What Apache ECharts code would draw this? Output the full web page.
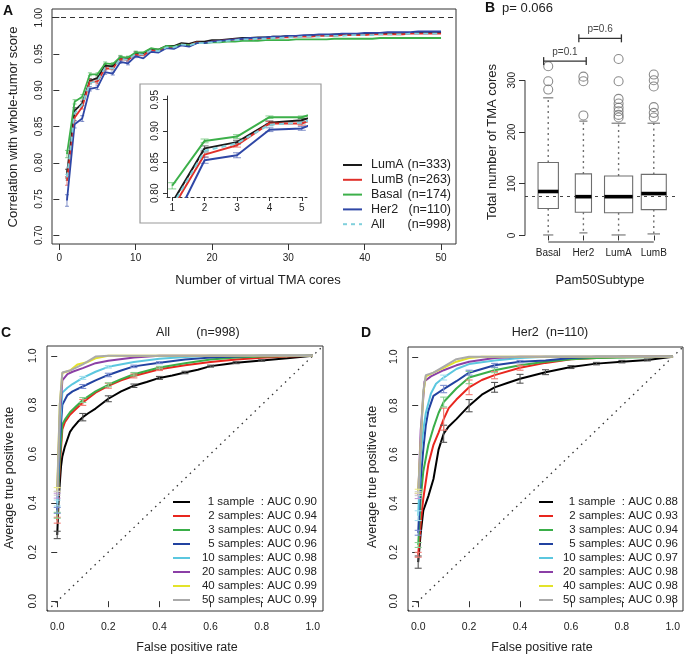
<!DOCTYPE html>
<html><head><meta charset="utf-8">
<script src="https://cdn.jsdelivr.net/npm/echarts@6/dist/echarts.min.js"></script>
<style>html,body{margin:0;padding:0;background:#fff}#c{width:685px;height:657px}</style>
</head><body><div id="c"></div>
<script>
// ---------------- Panel A data ----------------
const aCores = [1,2,3,4,5,6,7,8,9,10,11,12,13,14,15,16,17,18,19,20,21,22,23,24,25,26,27,28,29,30,31,32,33,34,35,36,37,38,39,40,41,42,43,44,45,46,47,48,49,50];
const aLumA  = [0.785,0.872,0.882,0.913,0.917,0.934,0.933,0.945,0.944,0.951, 0.951,0.957,0.956,0.961,0.961,0.965,0.964,0.967,0.967,0.969, 0.969,0.970,0.971,0.972,0.972,0.973,0.973,0.974,0.974,0.975, 0.975,0.975,0.976,0.976,0.976,0.977,0.977,0.977,0.977,0.978, 0.978,0.978,0.978,0.979,0.979,0.979,0.979,0.979,0.980,0.980];
const aLumB  = [0.775,0.862,0.877,0.912,0.912,0.930,0.930,0.943,0.942,0.949, 0.948,0.955,0.954,0.959,0.959,0.963,0.962,0.966,0.965,0.967, 0.968,0.969,0.970,0.970,0.971,0.971,0.972,0.972,0.973,0.973, 0.974,0.974,0.974,0.975,0.975,0.975,0.976,0.976,0.976,0.976, 0.977,0.977,0.977,0.977,0.977,0.978,0.978,0.978,0.978,0.978];
const aBasal = [0.812,0.884,0.891,0.922,0.922,0.937,0.936,0.946,0.945,0.952, 0.952,0.958,0.956,0.961,0.960,0.963,0.962,0.965,0.965,0.966, 0.966,0.967,0.967,0.968,0.968,0.968,0.969,0.969,0.969,0.969, 0.970,0.970,0.970,0.970,0.970,0.971,0.971,0.971,0.971,0.971, 0.971,0.972,0.972,0.972,0.972,0.972,0.972,0.972,0.972,0.972];
const aHer2  = [0.748,0.853,0.861,0.902,0.904,0.925,0.923,0.939,0.937,0.947, 0.944,0.953,0.952,0.958,0.957,0.962,0.960,0.965,0.965,0.967, 0.968,0.969,0.970,0.971,0.972,0.972,0.973,0.974,0.974,0.975, 0.975,0.976,0.976,0.977,0.977,0.977,0.978,0.978,0.978,0.979, 0.979,0.979,0.980,0.980,0.980,0.980,0.981,0.981,0.981,0.981];
const aAll   = [0.780,0.868,0.880,0.910,0.913,0.931,0.930,0.943,0.942,0.950, 0.949,0.955,0.954,0.959,0.959,0.963,0.962,0.965,0.965,0.966, 0.967,0.968,0.969,0.970,0.970,0.971,0.971,0.972,0.972,0.973, 0.973,0.974,0.974,0.974,0.975,0.975,0.975,0.976,0.976,0.976, 0.976,0.977,0.977,0.977,0.977,0.978,0.978,0.978,0.978,0.978];
const aErrLumA  = [0.006,0.004,0.003,0.003,0.003,0.002,0.002,0.002,0.002,0.002];
const aErrLumB  = [0.006,0.004,0.003,0.003,0.003,0.002,0.002,0.002,0.002,0.002];
const aErrBasal = [0.005,0.003,0.003,0.002,0.002,0.002,0.002,0.002,0.002,0.002];
const aErrHer2  = [0.008,0.005,0.004,0.003,0.003,0.003,0.002,0.002,0.002,0.002];
const aErrAll   = [0.004,0.003,0.002,0.002,0.002,0.002,0.002,0.001,0.001,0.001];
const aNames  = ['LumA','LumB','Basal','Her2','All'];
const aCounts = ['(n=333)','(n=263)','(n=174)','(n=110)','(n=998)'];
const aTicksX = [0,10,20,30,40,50];
const aTicksY = [0.70,0.75,0.80,0.85,0.90,0.95,1.00];
const aRefLine = 1.00;
const insetTicksX = [1,2,3,4,5];
const insetTicksY = [0.80,0.85,0.90,0.95];

// ---------------- Panel B data ----------------
const bCats = ['Basal','Her2','LumA','LumB'];
const bN = [174,110,333,263];
// [lower whisker, Q1, median, Q3, upper whisker]
const bStats = [[1,52,85,141,266],[5,45,75,119,221],[1,44,75,115,217],[3,50,81,118,217]];
const bOutliers = [[282,298,327],[232,298,307],[228,233,240,247,255,264,298,341],[228,237,248,288,300,311]];
const bOverallMedian = 76;
const bTicksY = [0,100,200,300];
const bTicksX = [1,2,3,4];
const bComparisons = [['Basal','Her2','p=0.1',337],['Her2','LumA','p=0.6',381]];
const bTitleP = 'p= 0.066';

// ---------------- Panel C / D data: [FPR, mean TPR, error half-width] ----------------
const rocLabels = ['1 sample','2 samples','3 samples','5 samples','10 samples','20 samples','40 samples','50 samples'];
const cAUC = ['0.90','0.94','0.94','0.96','0.98','0.98','0.99','0.99'];
const dAUC = ['0.88','0.93','0.94','0.96','0.97','0.98','0.98','0.98'];
const rocTicks = [0,0.2,0.4,0.6,0.8,1.0];
const diagLine = [[-0.04,-0.04],[1.04,1.04]];

const c1 = [[0,0.27,0.015],[0.005,0.40,0],[0.01,0.48,0],[0.015,0.55,0],[0.02,0.59,0],[0.03,0.63,0],[0.04,0.66,0],[0.05,0.69,0],[0.06,0.705,0],[0.08,0.73,0],[0.1,0.75,0.015],[0.12,0.765,0],[0.15,0.785,0],[0.2,0.825,0.012],[0.25,0.855,0],[0.3,0.878,0.007],[0.35,0.893,0],[0.4,0.91,0.006],[0.45,0.92,0],[0.5,0.932,0.005],[0.55,0.943,0],[0.6,0.958,0.004],[0.65,0.965,0],[0.7,0.972,0.004],[0.8,0.981,0.003],[0.9,0.99,0],[1,1,0]];
const c2 = [[0,0.33,0.012],[0.01,0.55,0],[0.02,0.70,0],[0.03,0.73,0],[0.05,0.76,0],[0.07,0.78,0],[0.1,0.81,0.012],[0.15,0.85,0],[0.2,0.878,0.01],[0.25,0.9,0],[0.3,0.918,0.008],[0.4,0.945,0.005],[0.5,0.962,0],[0.6,0.975,0],[0.7,0.985,0],[0.8,0.992,0],[0.9,0.997,0],[1,1,0]];
const c3 = [[0,0.35,0.012],[0.01,0.58,0],[0.02,0.72,0],[0.03,0.74,0],[0.05,0.77,0],[0.07,0.79,0],[0.1,0.82,0.01],[0.15,0.855,0],[0.2,0.882,0.008],[0.25,0.905,0],[0.3,0.925,0.007],[0.4,0.952,0.005],[0.5,0.97,0],[0.6,0.985,0],[0.7,0.993,0],[0.8,0.997,0],[1,1,0]];
const c5 = [[0,0.37,0.012],[0.01,0.65,0],[0.02,0.8,0],[0.04,0.84,0],[0.06,0.855,0],[0.1,0.875,0.008],[0.15,0.9,0],[0.2,0.922,0.007],[0.25,0.94,0],[0.3,0.957,0.005],[0.4,0.972,0.004],[0.5,0.985,0],[0.6,0.993,0],[0.7,0.997,0],[0.8,1,0],[1,1,0]];
const c10 = [[0,0.40,0.012],[0.01,0.7,0],[0.02,0.85,0],[0.04,0.87,0],[0.06,0.885,0],[0.1,0.91,0.006],[0.15,0.935,0],[0.2,0.955,0.005],[0.3,0.975,0],[0.4,0.988,0],[0.5,0.995,0],[0.6,1,0],[1,1,0]];
const c20 = [[0,0.43,0.01],[0.01,0.75,0],[0.02,0.9,0],[0.04,0.925,0],[0.06,0.935,0],[0.1,0.95,0],[0.15,0.97,0],[0.2,0.98,0],[0.3,0.993,0],[0.4,1,0],[1,1,0]];
const c40 = [[0,0.455,0.008],[0.01,0.8,0],[0.02,0.93,0],[0.05,0.94,0],[0.08,0.965,0],[0.12,0.975,0],[0.15,0.99,0],[0.2,1,0],[1,1,0]];
const c50 = [[0,0.44,0.008],[0.01,0.8,0],[0.02,0.932,0],[0.05,0.94,0],[0.1,0.965,0],[0.15,0.997,0],[0.2,1,0],[1,1,0]];

const d1 = [[0,0.16,0.025],[0.01,0.28,0],[0.02,0.37,0],[0.04,0.43,0],[0.06,0.5,0],[0.08,0.62,0],[0.1,0.685,0.035],[0.12,0.715,0],[0.15,0.745,0],[0.2,0.8,0.025],[0.25,0.845,0],[0.3,0.875,0.02],[0.35,0.893,0],[0.4,0.91,0.018],[0.5,0.937,0.01],[0.6,0.958,0.006],[0.7,0.972,0.005],[0.8,0.98,0.005],[0.9,0.987,0.004],[1,1,0]];
const d2 = [[0,0.19,0.01],[0.01,0.32,0],[0.02,0.42,0],[0.04,0.56,0],[0.06,0.64,0],[0.08,0.69,0],[0.1,0.745,0.045],[0.12,0.79,0],[0.15,0.825,0],[0.2,0.875,0.03],[0.25,0.905,0],[0.3,0.925,0.015],[0.4,0.955,0.01],[0.5,0.975,0],[0.6,0.99,0],[0.7,0.995,0],[0.8,1,0],[1,1,0]];
const d3 = [[0,0.23,0.01],[0.01,0.42,0],[0.02,0.53,0],[0.04,0.64,0],[0.06,0.71,0],[0.08,0.77,0],[0.1,0.815,0.02],[0.15,0.87,0],[0.2,0.915,0.025],[0.3,0.945,0.01],[0.4,0.965,0],[0.5,0.98,0],[0.6,0.99,0],[0.7,0.995,0],[1,1,0]];
const d5 = [[0,0.28,0.01],[0.01,0.5,0],[0.02,0.62,0],[0.03,0.72,0],[0.04,0.78,0],[0.06,0.84,0],[0.1,0.868,0.015],[0.15,0.9,0],[0.2,0.935,0.01],[0.3,0.965,0.008],[0.4,0.98,0.005],[0.5,0.985,0],[0.6,0.995,0],[0.7,1,0],[1,1,0]];
const d10 = [[0,0.35,0.02],[0.01,0.6,0],[0.02,0.7,0],[0.03,0.77,0],[0.05,0.85,0],[0.07,0.89,0],[0.1,0.915,0.01],[0.15,0.95,0],[0.2,0.97,0],[0.3,0.985,0],[0.4,0.995,0],[0.5,1,0],[1,1,0]];
const d20 = [[0,0.43,0.01],[0.01,0.7,0],[0.025,0.9,0],[0.05,0.92,0],[0.1,0.945,0],[0.15,0.965,0],[0.2,0.98,0],[0.3,0.995,0],[0.4,1,0],[1,1,0]];
const d40 = [[0,0.45,0.008],[0.02,0.85,0],[0.03,0.92,0],[0.06,0.935,0],[0.1,0.955,0],[0.15,0.98,0],[0.2,0.995,0],[0.25,1,0],[1,1,0]];
const d50 = [[0,0.44,0.008],[0.02,0.86,0],[0.03,0.925,0],[0.06,0.935,0],[0.1,0.96,0],[0.15,0.99,0],[0.2,1,0],[1,1,0]];

// ---------------- styling ----------------
const FONT = "'Liberation Sans', Arial, Helvetica, sans-serif";
const TXT = '#222';
const AX = '#333';
const aColors = ['#1a1a1a','#e0302a','#3cb04a','#2f47a6','#80d0dc'];
const aErrColors = ['rgba(60,60,60,0.7)','rgba(224,48,42,0.55)','rgba(60,176,74,0.55)','rgba(47,71,166,0.55)','rgba(128,208,220,0.7)'];
const rocColors = ['#000000','#e8261e','#3aae49','#2142a0','#5bc7df','#8b3fa6','#e3e32a','#aaaaaa'];
const rocErrColors = ['#555555','#f07a72','#86d190','#7c8fd0','#a6e0ee','#c29ad6','#eded88','#cccccc'];

const chart = echarts.init(document.getElementById('c'), null, {renderer:'canvas'});

function valAxis(gi, min, max, ticks, fmt, o) {
  o = o || {};
  return {
    type:'value', gridIndex:gi, min, max, scale:true,
    splitLine:{show:false},
    axisLine:{show: !!o.line, lineStyle:{color:AX, width:1, type:o.lineType||'solid'}},
    axisTick:{show:true, customValues:ticks, length:o.tickLen||6, inside:false, lineStyle:{color:AX}},
    axisLabel:{show:true, customValues:ticks, formatter:fmt, fontSize:o.fs||10, fontFamily:FONT, color:TXT, margin:o.margin||8, rotate:o.rot||0, hideOverlap:false},
    z:5
  };
}

const grids = [
  {left:52, top:9, width:404, height:235, show:true, borderColor:AX, borderWidth:1, backgroundColor:'transparent'}, // A
  {left:167, top:96, width:140, height:101, show:false}, // inset
  {left:525, top:52, width:152, height:190, show:false}, // B
  {left:47, top:346, width:276, height:265, show:true, borderColor:AX, borderWidth:1, backgroundColor:'transparent'}, // C
  {left:408, top:347, width:275, height:264, show:true, borderColor:AX, borderWidth:1, backgroundColor:'transparent'} // D
];
const f2 = v => v.toFixed(2), f1 = v => v.toFixed(1);
const xAxes = [
  valAxis(0, -0.96, 51.96, aTicksX, v=>String(v), {margin:9}),
  valAxis(1, 0.84, 5.16, insetTicksX, v=>String(v), {line:true, lineType:[3,3], tickLen:4, margin:6}),
  valAxis(2, 0.34, 4.66, bTicksX, v=>bCats[v-1], {tickLen:5, margin:6}),
  valAxis(3, -0.04, 1.04, rocTicks, f1, {margin:11, fs:10.5}),
  valAxis(4, -0.04, 1.04, rocTicks, f1, {margin:11, fs:10.5})
];
const yAxes = [
  valAxis(0, 0.688, 1.012, aTicksY, f2, {rot:90, margin:8}),
  valAxis(1, 0.794, 0.956, insetTicksY, f2, {line:true, tickLen:4, rot:90, margin:7}),
  valAxis(2, -12.6, 354.6, bTicksY, v=>String(v), {rot:90, margin:8}),
  valAxis(3, -0.04, 1.04, rocTicks, f1, {rot:90, margin:8, fs:10.5}),
  valAxis(4, -0.04, 1.04, rocTicks, f1, {rot:90, margin:8, fs:10.5})
];

function errSeries(gi, data, color, cap, z) {
  return {
    type:'custom', xAxisIndex:gi, yAxisIndex:gi, data, clip:true, silent:true, z,
    encode:{x:0, y:1},
    renderItem:(params, api) => {
      const e = api.value(2);
      if (!e) return null;
      const x = api.value(0), y = api.value(1);
      const p1 = api.coord([x, y - e]), p2 = api.coord([x, y + e]);
      const st = {stroke:color, lineWidth:1.1};
      return {type:'group', children:[
        {type:'line', shape:{x1:p1[0], y1:p1[1], x2:p2[0], y2:p2[1]}, style:st},
        {type:'line', shape:{x1:p1[0]-cap, y1:p1[1], x2:p1[0]+cap, y2:p1[1]}, style:st},
        {type:'line', shape:{x1:p2[0]-cap, y1:p2[1], x2:p2[0]+cap, y2:p2[1]}, style:st}
      ]};
    }
  };
}
function lineS(gi, data, color, width, dash, z) {
  return {type:'line', xAxisIndex:gi, yAxisIndex:gi, data, showSymbol:false, symbol:'none', clip:true, silent:true,
    lineStyle:{color, width, type: dash ? dash : 'solid'}, itemStyle:{color}, z, encode:{x:0, y:1}};
}

const series = [];
// ----- Panel A -----
const aVals = [aLumA, aLumB, aBasal, aHer2, aAll];
const aErrs = [aErrLumA, aErrLumB, aErrBasal, aErrHer2, aErrAll];
aVals.forEach((vals, k) => {
  const pts = aCores.map((c, i) => [c, vals[i]]);
  const errPts = aErrs[k].map((e, i) => [aCores[i], vals[i], e]);
  const dash = k === 4 ? [5,4] : null;
  series.push(lineS(0, pts, aColors[k], 1.8, dash, 10 + k));
  series.push(errSeries(0, errPts, aErrColors[k], 2, 9));
  series.push(lineS(1, pts, aColors[k], 2, dash, 10 + k));
  series.push(errSeries(1, errPts.slice(0, 5), aErrColors[k], 4, 9));
});
series[0].markLine = {silent:true, symbol:['none','none'], label:{show:false},
  lineStyle:{color:AX, type:[5,4], width:1}, data:[{yAxis:aRefLine}]};

// ----- Panel B -----
const maxSqrtN = Math.sqrt(Math.max(...bN));
series.push({
  type:'custom', xAxisIndex:2, yAxisIndex:2, silent:true, z:10,
  data: bStats.map((s, i) => [i + 1, ...s, bN[i]]),
  encode:{x:0, y:[1,5]},
  renderItem:(params, api) => {
    const i = api.value(0);
    const lo = api.value(1), q1 = api.value(2), med = api.value(3), q3 = api.value(4), hi = api.value(5), n = api.value(6);
    const bw = api.size([1, 0])[0] * 0.8 * Math.sqrt(n) / maxSqrtN;
    const cx = api.coord([i, med])[0];
    const y = v => api.coord([i, v])[1];
    const stroke = '#6e6e6e';
    const dashS = {stroke, lineWidth:1.4, lineDash:[2,3.5]};
    const solid = {stroke, lineWidth:1.1};
    return {type:'group', children:[
      {type:'line', shape:{x1:cx, y1:y(q3), x2:cx, y2:y(hi)}, style:dashS},
      {type:'line', shape:{x1:cx, y1:y(q1), x2:cx, y2:y(lo)}, style:dashS},
      {type:'line', shape:{x1:cx-bw/4, y1:y(hi), x2:cx+bw/4, y2:y(hi)}, style:solid},
      {type:'line', shape:{x1:cx-bw/4, y1:y(lo), x2:cx+bw/4, y2:y(lo)}, style:solid},
      {type:'rect', shape:{x:cx-bw/2, y:y(q3), width:bw, height:y(q1)-y(q3)}, style:{fill:'none', stroke, lineWidth:1.1}},
      {type:'line', shape:{x1:cx-bw/2, y1:y(med), x2:cx+bw/2, y2:y(med)}, style:{stroke:'#000', lineWidth:3.6}}
    ]};
  }
});
series.push({
  type:'scatter', xAxisIndex:2, yAxisIndex:2, silent:true, z:11,
  data: bOutliers.flatMap((arr, i) => arr.map(v => [i + 1, v])),
  symbol:'circle', symbolSize:9,
  itemStyle:{color:'rgba(0,0,0,0)', borderColor:'#6e6e6e', borderWidth:1.1},
  markLine:{silent:true, symbol:['none','none'], label:{show:false},
    lineStyle:{color:'#444', type:[3,4], width:1.2}, data:[{yAxis:bOverallMedian}]}
});
// B axis lines (R style: from first to last tick)
series.push({
  type:'custom', xAxisIndex:2, yAxisIndex:2, silent:true, z:12, data:[[0]],
  renderItem:(params, api) => {
    const xMin = 0.34, yMin = -12.6;
    const a = api.coord([xMin, bTicksY[0]]), b = api.coord([xMin, bTicksY[bTicksY.length-1]]);
    const c = api.coord([bTicksX[0], yMin]), d = api.coord([bTicksX[bTicksX.length-1], yMin]);
    const st = {stroke:AX, lineWidth:1};
    return {type:'group', children:[
      {type:'line', shape:{x1:a[0], y1:a[1], x2:b[0], y2:b[1]}, style:st},
      {type:'line', shape:{x1:c[0], y1:c[1], x2:d[0], y2:d[1]}, style:st}
    ]};
  }
});
// B comparison brackets
series.push({
  type:'custom', xAxisIndex:2, yAxisIndex:2, silent:true, z:12,
  data: bComparisons.map(c => [bCats.indexOf(c[0]) + 1, bCats.indexOf(c[1]) + 1, c[3]]),
  renderItem:(params, api) => {
    const i = api.value(0), j = api.value(1), yv = api.value(2);
    const label = bComparisons[params.dataIndex][2];
    const p1 = api.coord([i - 0.13, yv]), p2 = api.coord([j + 0.08, yv]);
    const st = {stroke:'#333', lineWidth:1.3};
    return {type:'group', children:[
      {type:'line', shape:{x1:p1[0], y1:p1[1], x2:p2[0], y2:p2[1]}, style:st},
      {type:'line', shape:{x1:p1[0], y1:p1[1]-4, x2:p1[0], y2:p1[1]+4}, style:st},
      {type:'line', shape:{x1:p2[0], y1:p2[1]-4, x2:p2[0], y2:p2[1]+4}, style:st},
      {type:'text', style:{text:label, x:(p1[0]+p2[0])/2, y:p1[1]-4, align:'center', verticalAlign:'bottom',
        textAlign:'center', textVerticalAlign:'bottom', fill:'#444', fontSize:10, fontFamily:FONT}}
    ]};
  }
});

// ----- Panels C & D -----
function addRoc(gi, curves) {
  series.push({type:'line', xAxisIndex:gi, yAxisIndex:gi, data:diagLine, showSymbol:false, symbol:'none', silent:true, clip:true,
    lineStyle:{color:'#333', width:1.3, type:[1.5,4.5]}, z:5});
  curves.forEach((cv, k) => {
    series.push(lineS(gi, cv.map(p => [p[0], p[1]]), rocColors[k], 2, null, 10 + k));
    series.push(errSeries(gi, cv, rocErrColors[k], 3.5, 30 + k));
  });
}
addRoc(3, [c1,c2,c3,c5,c10,c20,c40,c50]);
addRoc(4, [d1,d2,d3,d5,d10,d20,d40,d50]);

// ----- text & legends (graphic) -----
function T(text, x, y, size, o) {
  o = o || {};
  const al = o.align || 'center', va = o.valign || 'middle';
  return {type:'text', x, y, rotation:o.rot || 0, z:100, silent:true,
    style:{text, fill:o.color || TXT, fontSize:size, fontFamily:FONT, fontWeight:o.bold ? 'bold' : 'normal',
      align:al, verticalAlign:va, textAlign:al, textVerticalAlign:va}};
}
function L(x1, y1, x2, y2, color, w, dash) {
  return {type:'line', z:100, silent:true, shape:{x1, y1, x2, y2}, style:{stroke:color, lineWidth:w, lineDash:dash || null}};
}
const g = [];
// inset frame
g.push({type:'rect', z:1, silent:true, shape:{x:140, y:84, width:181, height:139}, style:{fill:'none', stroke:'#9a9a9a', lineWidth:1.2}});
// A
g.push(T('A', 8, 11, 14, {bold:true, color:'#111'}));
g.push(T('Correlation with whole-tumor score', 13, 127, 13, {rot:Math.PI/2}));
g.push(T('Number of virtual TMA cores', 258, 280, 13));
aNames.forEach((nm, k) => {
  const y = 165 + k * 14.8;
  g.push(L(343, y, 362, y, aColors[k], 2, k === 4 ? [4,4] : null));
  g.push(T(nm, 371, y, 12.5, {align:'left'}));
  g.push(T(aCounts[k], 451, y, 12.5, {align:'right'}));
});
// B
g.push(T('B', 490, 8, 14, {bold:true, color:'#111'}));
g.push(T(bTitleP, 502, 8, 13, {align:'left'}));
g.push(T('Total number of TMA cores', 492, 142, 13, {rot:Math.PI/2}));
g.push(T('Pam50Subtype', 600, 280, 13));
// C
g.push(T('C', 6, 333, 14, {bold:true, color:'#111'}));
g.push(T('All', 163, 333, 12.5));
g.push(T('(n=998)', 218, 333, 12.5));
g.push(T('Average true positive rate', 10, 478, 12.5, {rot:Math.PI/2}));
g.push(T('False positive rate', 187, 648, 12.5));
// D
g.push(T('D', 366, 333, 14, {bold:true, color:'#111'}));
g.push(T('Her2  (n=110)', 550, 333, 12.5));
g.push(T('Average true positive rate', 373, 477, 12.5, {rot:Math.PI/2}));
g.push(T('False positive rate', 542, 648, 12.5));
// ROC legends
function rocLegend(x1, x2, xr, y0, dy, aucs) {
  rocLabels.forEach((lb, k) => {
    const y = y0 + k * dy;
    g.push(L(x1, y, x2, y, rocColors[k], 2));
    const label = (k === 0 ? lb + '  ' : lb) + ': AUC ' + aucs[k];
    g.push(T(label, xr, y, 11.5, {align:'right'}));
  });
}
rocLegend(173, 190, 317, 502, 14, cAUC);
rocLegend(539, 553, 678, 502, 14, dAUC);

chart.setOption({
  animation:false,
  backgroundColor:'#fff',
  textStyle:{fontFamily:FONT},
  grid:grids, xAxis:xAxes, yAxis:yAxes, series, graphic:{elements:g}
});
</script></body></html>
